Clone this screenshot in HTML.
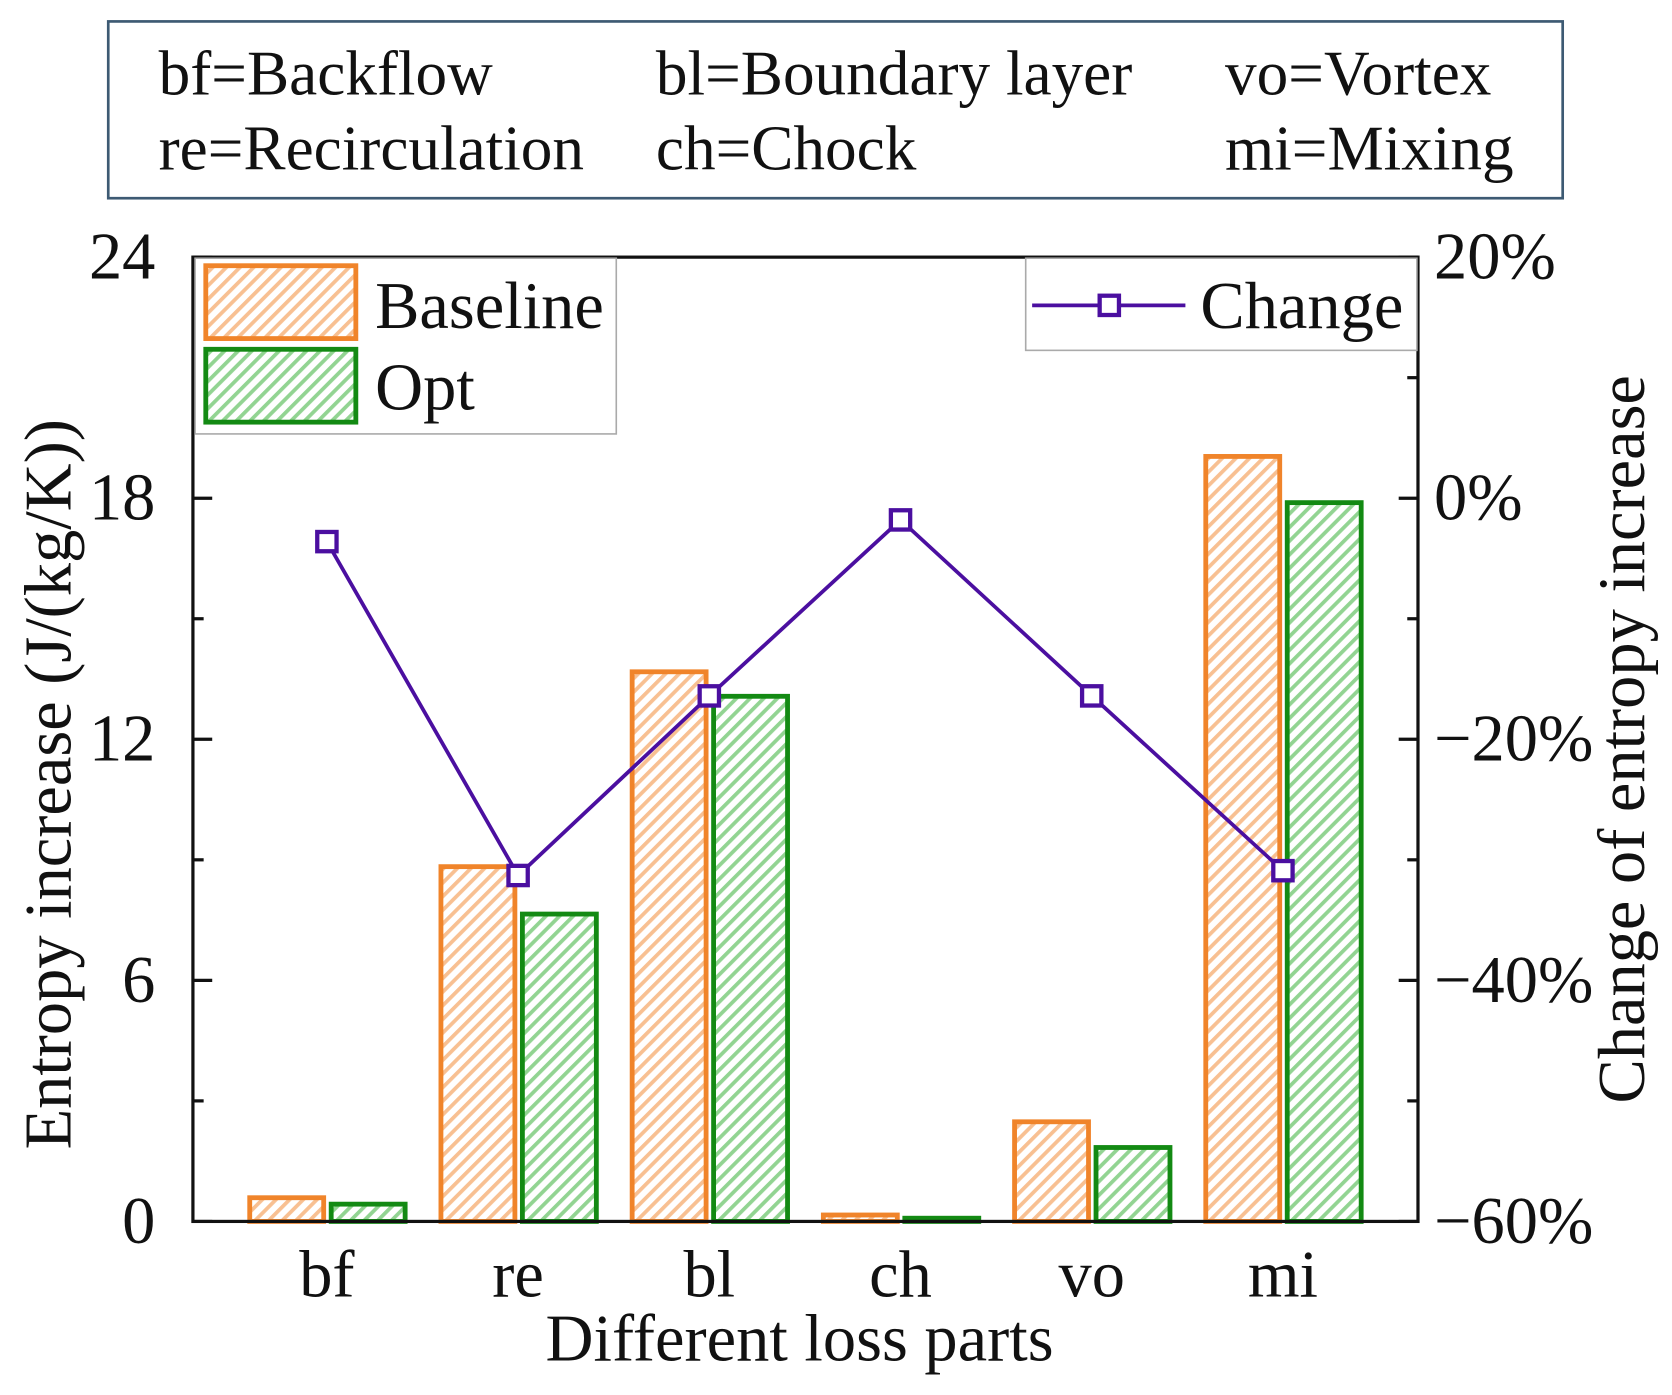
<!DOCTYPE html>
<html><head><meta charset="utf-8"><style>
html,body{margin:0;padding:0;background:#fff;}
svg{display:block;font-family:"Liberation Serif",serif;}
</style></head><body>
<svg id="chart" width="1672" height="1395" viewBox="0 0 1560 1302" preserveAspectRatio="none" xmlns="http://www.w3.org/2000/svg">
<defs>
<pattern id="hatchO" patternUnits="userSpaceOnUse" width="9" height="9" patternTransform="rotate(45)">
<rect width="9" height="9" fill="#fff"/><rect width="3.5" height="9" fill="#f8c092"/></pattern>
<pattern id="hatchG" patternUnits="userSpaceOnUse" width="9" height="9" patternTransform="rotate(45)">
<rect width="9" height="9" fill="#fff"/><rect width="3.5" height="9" fill="#92d492"/></pattern>
</defs>
<g>
<rect x="101" y="20" width="1357" height="165" fill="#fff" stroke="#3d5a73" stroke-width="2.5"/>
<g font-size="59" fill="#111">
<text x="148" y="88">bf=Backflow</text>
<text x="612" y="88">bl=Boundary layer</text>
<text x="1143" y="88">vo=Vortex</text>
<text x="148" y="158">re=Recirculation</text>
<text x="612" y="158">ch=Chock</text>
<text x="1143" y="158">mi=Mixing</text>
</g></g>
<g id="plot"></g>
<g id="fg"></g>
</svg>
<script>
const categories = ["bf","re","bl","ch","vo","mi"];
const baseline = [0.59, 8.83, 13.68, 0.16, 2.48, 19.04];
const opt = [0.43, 7.65, 13.07, 0.08, 1.84, 17.89];
const change = [-3.6, -31.3, -16.4, -1.8, -16.4, -30.9];
const leftTicks = [0, 6, 12, 18, 24];
const rightTicks = [-60, -40, -20, 0, 20];

const NS = "http://www.w3.org/2000/svg";
const L = 180, R = 1323, T = 240, B = 1140;
const yL = v => B - (v / 24) * (B - T);
const yR = v => B - ((v + 60) / 80) * (B - T);
const xC = i => 305 + i * 178.4;
const plot = document.getElementById('plot');
const fg = document.getElementById('fg');
function mk(tag, attrs, parent) {
  const e = document.createElementNS(NS, tag);
  for (const k in attrs) e.setAttribute(k, attrs[k]);
  parent.appendChild(e);
  return e;
}
categories.forEach((c, i) => {
  const x = xC(i);
  const b = mk('rect', {x: x - 72, y: yL(baseline[i]), width: 69, height: B - yL(baseline[i]), fill: 'url(#hatchO)', stroke: '#f0842a', 'stroke-width': 4.5}, plot);
  
  
  const o = mk('rect', {x: x + 4, y: yL(opt[i]), width: 69, height: B - yL(opt[i]), fill: 'url(#hatchG)', stroke: '#138a13', 'stroke-width': 4.5}, plot);
  
  
  const t = mk('text', {x: x, y: 1210, 'font-size': 62, 'text-anchor': 'middle', fill: '#111'}, fg);
  t.textContent = c;
  
  
});
const fr = mk('rect', {x: L, y: T, width: R - L, height: B - T, fill: 'none', stroke: '#111', 'stroke-width': 3}, fg);


for (let v = 0; v <= 24; v += 3) {
  const len = v % 6 === 0 ? 18 : 10;
  mk('line', {x1: L, x2: L + len, y1: yL(v), y2: yL(v), stroke: '#111', 'stroke-width': 3}, fg);
}
leftTicks.forEach(v => {
  const t = mk('text', {x: 145, y: yL(v) + 20, 'font-size': 62, 'text-anchor': 'end', fill: '#111'}, fg);
  t.textContent = v;
  
  
});
for (let v = -60; v <= 20; v += 10) {
  const len = v % 20 === 0 ? 18 : 10;
  mk('line', {x1: R, x2: R - len, y1: yR(v), y2: yR(v), stroke: '#111', 'stroke-width': 3}, fg);
}
rightTicks.forEach(v => {
  const t = mk('text', {x: 1338, y: yR(v) + 20, 'font-size': 62, fill: '#111'}, fg);
  t.textContent = (v < 0 ? '\u2212' + (-v) : v) + '%';
  
  
});
const pts = change.map((v, i) => xC(i) + ',' + yR(v)).join(' ');
const pl = mk('polyline', {points: pts, fill: 'none', stroke: '#4b0fa0', 'stroke-width': 3.5}, fg);


change.forEach((v, i) => {
  const m = mk('rect', {x: xC(i) - 9, y: yR(v) - 9, width: 18, height: 18, fill: '#fff', stroke: '#4b0fa0', 'stroke-width': 4}, fg);
  
  
});
</script>
<svg style="position:absolute;left:0;top:0" width="1672" height="1395" viewBox="0 0 1560 1302" preserveAspectRatio="none" xmlns="http://www.w3.org/2000/svg" font-family="Liberation Serif, serif">
<g>
<rect x="182" y="241" width="393" height="164" fill="#fff" stroke="#aaa" stroke-width="1.5"/>
<rect x="192" y="248" width="140" height="68" fill="url(#hatchO)" stroke="#f0842a" stroke-width="4.5"/>
<text x="350" y="306" font-size="62" fill="#111">Baseline</text>
<rect x="192" y="326" width="140" height="68" fill="url(#hatchG)" stroke="#138a13" stroke-width="4.5"/>
<text x="350" y="382" font-size="62" fill="#111">Opt</text>
</g>
<g>
<rect x="957" y="241" width="365" height="86" fill="#fff" stroke="#aaa" stroke-width="1.5"/>
<line x1="963" y1="285" x2="1106" y2="285" stroke="#4b0fa0" stroke-width="3.5"/>
<rect x="1026" y="276" width="18" height="18" fill="#fff" stroke="#4b0fa0" stroke-width="4"/>
<text x="1120" y="306" font-size="62" fill="#111">Change</text>
</g>
<text x="746" y="1270" font-size="62" text-anchor="middle" fill="#111">Different loss parts</text>
<text transform="translate(66,732) rotate(-90)" font-size="62" text-anchor="middle" fill="#111">Entropy increase (J/(kg/K))</text>
<text transform="translate(1534,690) rotate(-90)" font-size="62" text-anchor="middle" fill="#111">Change of entropy increase</text>
</svg>
</body></html>
